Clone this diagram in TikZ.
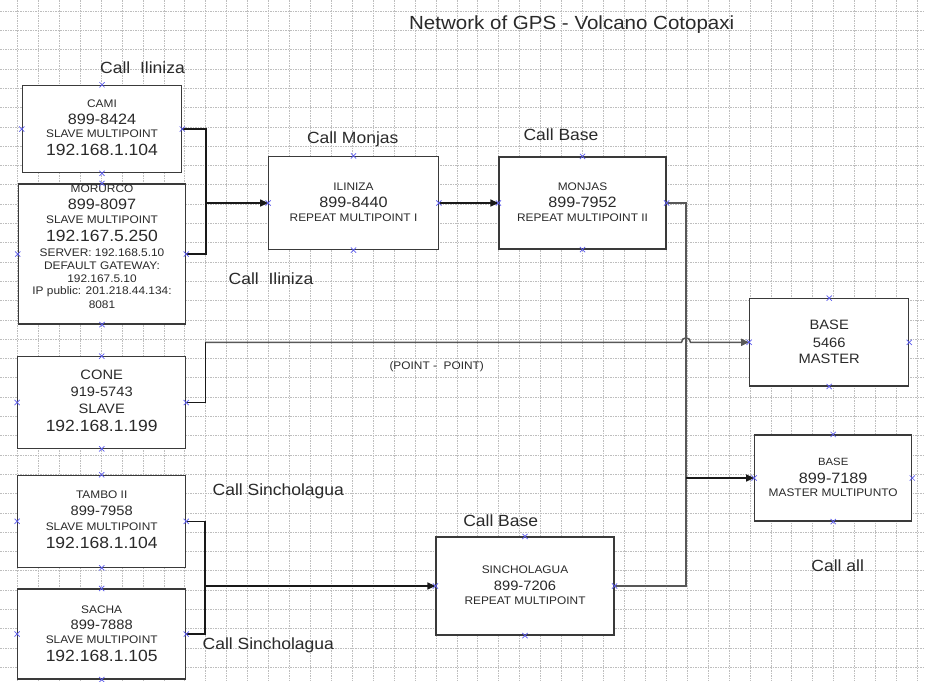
\documentclass[tikz,border=0pt]{standalone}
\usepackage{fontspec}
\setmainfont{Liberation Sans}[FakeStretch=1.08]
\usetikzlibrary{arrows.meta}
\definecolor{txtc}{HTML}{2A2A2A}
\definecolor{boxc}{HTML}{3A3A3A}
\definecolor{gridc}{HTML}{BEBEBE}
\definecolor{mkc}{HTML}{5C5CEE}
\definecolor{linec}{HTML}{585858}
\begin{document}
\begin{tikzpicture}[x=1pt,y=-1pt,
  box/.style={draw=boxc, line width=1.1pt, fill=white, inner sep=0pt},
  tx/.style={inner sep=0pt, text=txtc, text depth=0pt},
  t11/.style={tx, font=\fontsize{11}{13}\selectfont, text height=7.9pt},
  t105/.style={tx, font=\fontsize{10.5}{12}\selectfont, text height=7.5pt},
  t135/.style={tx, font=\fontsize{13.6}{16}\selectfont, text height=9.7pt},
  t15/.style={tx, font=\fontsize{15}{18}\selectfont, text height=10.7pt},
  t16/.style={tx, font=\fontsize{16.2}{19}\selectfont, text height=11.6pt},
  lab/.style={tx, font=\fontsize{16.2}{19}\selectfont, text height=11.6pt},
  ttl/.style={tx, font=\fontsize{19}{22}\selectfont, text height=13.6pt},
  gridl/.style={draw=gridc, line width=0.55pt, dash pattern=on 1.5pt off 1pt},
  mk/.style={draw=mkc, line width=0.7pt},
  cl/.style={draw=black!90, line width=1.1pt},
  gl/.style={draw=linec, line width=1.5pt},
  tip/.style={-{Triangle[length=8pt,width=7pt]}}
]
\useasboundingbox (0,0) rectangle (925,681);
\fill[white] (0,0) rectangle (925,681);
% grid
\foreach \i in {0,...,43} \draw[gridl] ({17.3+20.93*\i},0) -- ({17.3+20.93*\i},681);
\foreach \j in {0,...,34} \draw[gridl] (0,{11+19.3*\j}) -- (925,{11+19.3*\j});

% title and labels
\node[ttl] (title) at (571.7,22.7) {Network of GPS - Volcano Cotopaxi};
\node[lab] (callil1) at (142.5,68) {Call\ \ Iliniza};
\node[lab] (callmon) at (352.7,138) {Call Monjas};
\node[lab] (callbase1) at (561,135) {Call Base};
\node[lab] (callil2) at (271,279) {Call\ \ Iliniza};
\node[t11] (p2p) at (436.7,365.7) {(POINT -\ \ POINT)};
\node[lab] (callsin1) at (278.3,490) {Call Sincholagua};
\node[lab] (callsin2) at (268.3,643.3) {Call Sincholagua};
\node[lab] (callbase2) at (500.7,520.7) {Call Base};
\node[lab] (callall) at (837.7,566) {Call all};

% boxes
\node[box, minimum width=159.4pt, minimum height=87.4pt] (cami) at (102,129) {};
\node[box, minimum width=167.4pt, minimum height=140pt] (morurco) at (102,254) {};
\node[box, minimum width=169.6pt, minimum height=93pt] (iliniza) at (353.5,203) {};
\node[box, minimum width=167pt, minimum height=92pt] (monjas) at (582.5,203) {};
\node[box, minimum width=159pt, minimum height=87.3pt] (base1) at (829.2,342.3) {};
\node[box, minimum width=157pt, minimum height=86pt] (base2) at (833.2,478) {};
\node[box, minimum width=168pt, minimum height=91.6pt] (cone) at (101.7,402.5) {};
\node[box, minimum width=168pt, minimum height=92pt] (tambo) at (101.7,521.3) {};
\node[box, minimum width=168pt, minimum height=90pt] (sacha) at (101.7,634) {};
\node[box, minimum width=178pt, minimum height=98pt] (sinch) at (525,586) {};

% box texts
\node[t11] (cami1) at (102,103.3) {CAMI};
\node[t15] (cami2) at (102,119.3) {899-8424};
\node[t11] (cami3) at (102,134) {SLAVE MULTIPOINT};
\node[t16] (cami4) at (102,150) {192.168.1.104};

\node[t11] (mor1) at (102,188.3) {MORURCO};
\node[t15] (mor2) at (102,204) {899-8097};
\node[t11] (mor3) at (102,220) {SLAVE MULTIPOINT};
\node[t16] (mor4) at (102,235.7) {192.167.5.250};
\node[t11] (mor5) at (102,252.7) {SERVER: 192.168.5.10};
\node[t11] (mor6) at (102,265.3) {DEFAULT GATEWAY:};
\node[t11] (mor7) at (102,278.3) {192.167.5.10};
\node[t11] (mor8) at (102,290.5) {IP public: 201.218.44.134:};
\node[t11] (mor9) at (102,304.3) {8081};

\node[t11] (ili1) at (353.5,186.7) {ILINIZA};
\node[t15] (ili2) at (353.5,202.3) {899-8440};
\node[t11] (ili3) at (353.5,217.3) {REPEAT MULTIPOINT I};

\node[t11] (mon1) at (582.5,186.7) {MONJAS};
\node[t15] (mon2) at (582.5,202.3) {899-7952};
\node[t11] (mon3) at (582.5,217.3) {REPEAT MULTIPOINT II};

\node[t135] (b1a) at (829.2,325) {BASE};
\node[t135] (b1b) at (829.2,342.3) {5466};
\node[t135] (b1c) at (829.2,358.3) {MASTER};

\node[t105] (b2a) at (833.2,462) {BASE};
\node[t15] (b2b) at (833.2,477.7) {899-7189};
\node[t11] (b2c) at (833.2,492.7) {MASTER MULTIPUNTO};

\node[t135] (cone1) at (101.7,375) {CONE};
\node[t135] (cone2) at (101.7,391.7) {919-5743};
\node[t135] (cone3) at (101.7,408.3) {SLAVE};
\node[t16] (cone4) at (101.7,426) {192.168.1.199};

\node[t11] (tam1) at (101.7,495) {TAMBO II};
\node[t135] (tam2) at (101.7,511) {899-7958};
\node[t11] (tam3) at (101.7,526.7) {SLAVE MULTIPOINT};
\node[t16] (tam4) at (101.7,542.7) {192.168.1.104};

\node[t11] (sac1) at (101.7,609.3) {SACHA};
\node[t135] (sac2) at (101.7,624.3) {899-7888};
\node[t11] (sac3) at (101.7,640) {SLAVE MULTIPOINT};
\node[t16] (sac4) at (101.7,656) {192.168.1.105};

\node[t11] (sin1) at (525,570) {SINCHOLAGUA};
\node[t135] (sin2) at (525,586) {899-7206};
\node[t11] (sin3) at (525,600.3) {REPEAT MULTIPOINT};

% junction coordinates
\coordinate (j1) at (206,203);
\coordinate (j2) at (205.7,342.3);
\coordinate (hop) at (686,342.3);
\coordinate (j3) at (686,478);
\coordinate (j4) at (205,586);

% connectors
\draw[cl] (cami.east) -| (j1) |- (morurco.east);
\draw[cl,tip] (j1) -- (iliniza.west);
\draw[cl,tip] (iliniza.east) -- (monjas.west);
\draw[gl] (monjas.east) -| (j3);
\draw[gl] (sinch.east) -| (j3);
\draw[cl,tip] (j3) -- (base2.west);
\draw[cl] (cone.east) -| (j2);
\draw[gl,tip] (j2) -- ([xshift=-4.5pt]hop) arc[start angle=180,end angle=360,radius=4.5] -- (base1.west);
\draw[cl] (tambo.east) -| (j4) |- (sacha.east);
\draw[cl,tip] (j4) -- (sinch.west);

% markers
\foreach \b in {cami,morurco,iliniza,monjas,base1,base2,cone,tambo,sacha,sinch}
  \foreach \a in {north,south,east,west}
    \draw[mk] ([shift={(-2.6,-2.6)}]\b.\a) -- ([shift={(2.6,2.6)}]\b.\a)
              ([shift={(-2.6,2.6)}]\b.\a) -- ([shift={(2.6,-2.6)}]\b.\a);
\end{tikzpicture}
\end{document}
